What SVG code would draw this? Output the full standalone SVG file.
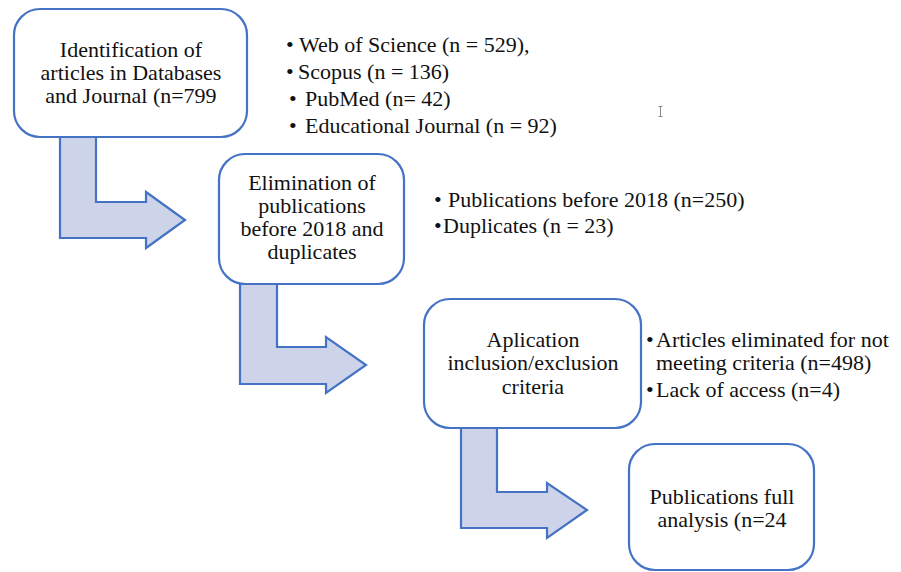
<svg xmlns="http://www.w3.org/2000/svg" width="901" height="572" viewBox="0 0 901 572">
<style>
.box{fill:#ffffff;stroke:#4472C4;stroke-width:2.2}
.arr{fill:#CDD4E9;stroke:#4472C4;stroke-width:2.2;stroke-linejoin:miter}
text{font-family:"Liberation Serif","Times New Roman",serif;font-size:22px;fill:#111111}
.c{text-anchor:middle}
</style>
<rect width="901" height="572" fill="#ffffff"/>
<g id="connectors">
<path class="arr" d="M60,137 L96,137 L96,202 L146,202 L146,192 L185,220 L146,248 L146,238 L60,238 Z"/>
<path class="arr" d="M240,284 L277,284 L277,347 L326,347 L326,337 L366,365 L326,393 L326,384 L240,384 Z"/>
<path class="arr" d="M461,428 L497,428 L497,492 L547,492 L547,483 L587,510 L547,538 L547,528 L461,528 Z"/>
</g>
<g id="node1">
<rect class="box" x="14" y="9" width="233" height="128" rx="26"/>
<text class="c" x="131" y="57">Identification of</text>
<text class="c" x="131" y="80">articles in Databases</text>
<text class="c" x="131" y="103">and Journal (n=799</text>
</g>
<g id="node2">
<rect class="box" x="219" y="154" width="185" height="130" rx="26"/>
<text class="c" x="312" y="190">Elimination of</text>
<text class="c" x="312" y="213">publications</text>
<text class="c" x="312" y="236">before 2018 and</text>
<text class="c" x="312" y="259">duplicates</text>
</g>
<g id="node3">
<rect class="box" x="424" y="299" width="217" height="129" rx="26"/>
<text class="c" x="533" y="347">Aplication</text>
<text class="c" x="533" y="370">inclusion/exclusion</text>
<text class="c" x="533" y="394">criteria</text>
</g>
<g id="node4">
<rect class="box" x="629" y="444" width="185" height="126" rx="26"/>
<text class="c" x="722" y="504">Publications full</text>
<text class="c" x="722" y="527">analysis (n=24</text>
</g>
<g id="list1">
<text y="52"><tspan x="286">•</tspan><tspan x="299">Web of Science (n = 529),</tspan></text>
<text y="79"><tspan x="286">•</tspan><tspan x="298">Scopus (n = 136)</tspan></text>
<text y="106"><tspan x="289">•</tspan><tspan x="305">PubMed (n= 42)</tspan></text>
<text y="133"><tspan x="289">•</tspan><tspan x="305">Educational Journal (n = 92)</tspan></text>
</g>
<g id="list2">
<text y="207"><tspan x="434">•</tspan><tspan x="448">Publications before 2018 (n=250)</tspan></text>
<text y="233"><tspan x="434">•</tspan><tspan x="443">Duplicates (n = 23)</tspan></text>
</g>
<g id="list3">
<text y="347"><tspan x="646">•</tspan><tspan x="656">Articles eliminated for not</tspan></text>
<text x="656" y="370">meeting criteria (n=498)</text>
<text y="397"><tspan x="646">•</tspan><tspan x="656">Lack of access (n=4)</tspan></text>
</g>
<g id="cursor" stroke="#8a8a8a" stroke-width="1" fill="none">
<path d="M658.5,106.5 L662.5,106.5 M660.5,106.5 L660.5,116.5 M658.5,116.5 L662.5,116.5"/>
</g>
</svg>
